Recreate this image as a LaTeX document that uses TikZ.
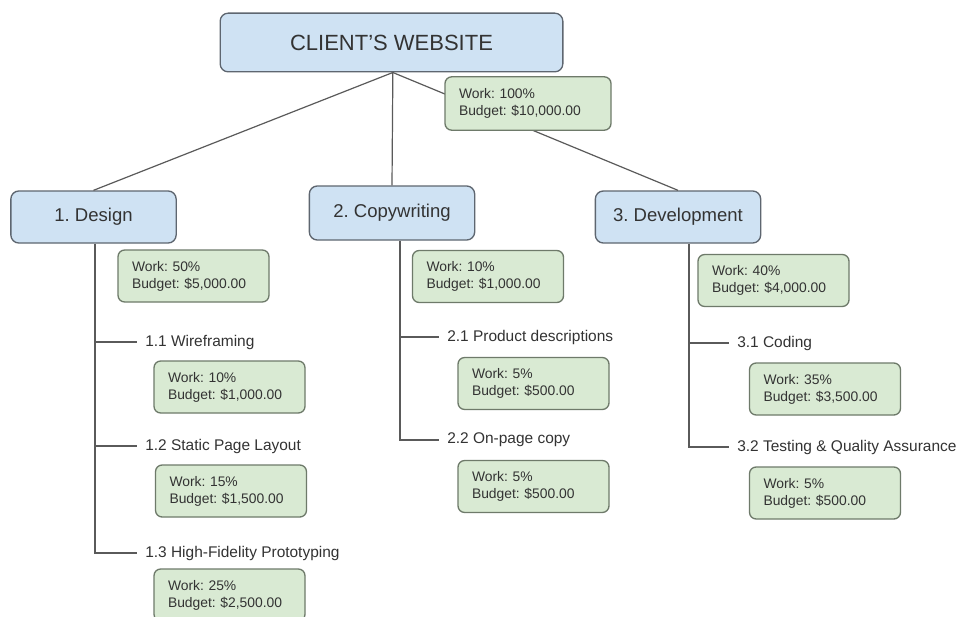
\documentclass[tikz,border=0pt]{standalone}
\usepackage{fontspec}
\setmainfont{Liberation Sans}
\usetikzlibrary{calc}
\frenchspacing
\definecolor{bluefill}{HTML}{CFE2F3}
\definecolor{greenfill}{HTML}{D9EAD3}
\definecolor{boxline}{HTML}{5E6670}
\definecolor{greenline}{HTML}{6E7A6A}
\definecolor{wire}{HTML}{5A5A5A}
\definecolor{ink}{HTML}{333333}
\tikzset{
  phase/.style={draw=boxline, line width=1pt, fill=bluefill, rounded corners=6pt,
    text=ink, inner sep=0pt, font=\fontsize{13.9pt}{16pt}\selectfont,
    minimum width=124pt, minimum height=39pt},
  cost/.style={draw=greenline, line width=1pt, fill=greenfill, rounded corners=5pt,
    text=ink, inner xsep=10.5pt, inner ysep=0pt, align=left,
    font=\fontsize{10.4pt}{12.75pt}\selectfont,
    text width=92.25pt, minimum height=39pt},
  task/.style={text=ink, inner sep=0pt, anchor=west,
    font=\fontsize{11.6pt}{14pt}\selectfont},
  wireline/.style={draw=wire, line width=0.9pt},
}
\begin{document}
\begin{tikzpicture}[x=0.75pt,y=-0.75pt]
\useasboundingbox[fill=white] (0,0) rectangle (967,617);

% top level and phases
\node[phase, minimum width=257pt, minimum height=44pt,
      font=\fontsize{16.5pt}{19pt}\selectfont] (root) at (391.5,42.5) {CLIENT'S WEBSITE};
\node[phase] (design) at (93.5,217) {1. Design};
\node[phase, minimum height=40.5pt] (copy) at (392,213) {2. Copywriting};
\node[phase] (dev) at (678,217) {3. Development};

% connectors from the top level
\draw[wireline] ([xshift=1pt]root.south) -- (design.north);
\draw[wireline] ([xshift=1pt]root.south) -- (copy.north);
\draw[wireline] ([xshift=1pt]root.south) -- (dev.north);

\node[cost, text width=103.5pt, minimum height=40pt] (rootcost) at (528,103.5)
  {Work: 100\%\\Budget: \$10,000.00};

% design branch
\node[cost] (c1) at (193.5,276) {Work: 50\%\\Budget: \$5,000.00};
\node[task] (t11) at (145,342) {1.1 Wireframing};
\node[cost] (c11) at (229.5,387) {Work: 10\%\\Budget: \$1,000.00};
\node[task] (t12) at (145,446) {1.2 Static Page Layout};
\node[cost] (c12) at (231,491) {Work: 15\%\\Budget: \$1,500.00};
\node[task] (t13) at (145,553) {1.3 High-Fidelity Prototyping};
\node[cost] (c13) at (229.5,595) {Work: 25\%\\Budget: \$2,500.00};
\coordinate (d0) at ($(design.south)+(1.5,0)$);
\draw[wireline] (d0) |- ([xshift=-6pt]t13.west);
\draw[wireline] (d0 |- t11.west) -- ([xshift=-6pt]t11.west);
\draw[wireline] (d0 |- t12.west) -- ([xshift=-6pt]t12.west);

% copywriting branch
\node[cost] (c2) at (488,276.5) {Work: 10\%\\Budget: \$1,000.00};
\node[task] (t21) at (447,337) {2.1 Product descriptions};
\node[cost] (c21) at (533.5,383.5) {Work: 5\%\\Budget: \$500.00};
\node[task] (t22) at (447,440) {2.2 On-page copy};
\node[cost] (c22) at (533.5,486.5) {Work: 5\%\\Budget: \$500.00};
\coordinate (p0) at ($(copy.south)+(8,0)$);
\draw[wireline] (p0) |- ([xshift=-6pt]t22.west);
\draw[wireline] (p0 |- t21.west) -- ([xshift=-6pt]t21.west);

% development branch
\node[cost] (c3) at (773.5,280.5) {Work: 40\%\\Budget: \$4,000.00};
\node[task] (t31) at (737,343) {3.1 Coding};
\node[cost] (c31) at (825,389) {Work: 35\%\\Budget: \$3,500.00};
\node[task] (t32) at (737,447) {3.2 Testing \& Quality Assurance};
\node[cost] (c32) at (825,493) {Work: 5\%\\Budget: \$500.00};
\coordinate (v0) at ($(dev.south)+(11,0)$);
\draw[wireline] (v0) |- ([xshift=-6pt]t32.west);
\draw[wireline] (v0 |- t31.west) -- ([xshift=-6pt]t31.west);
\end{tikzpicture}
\end{document}
